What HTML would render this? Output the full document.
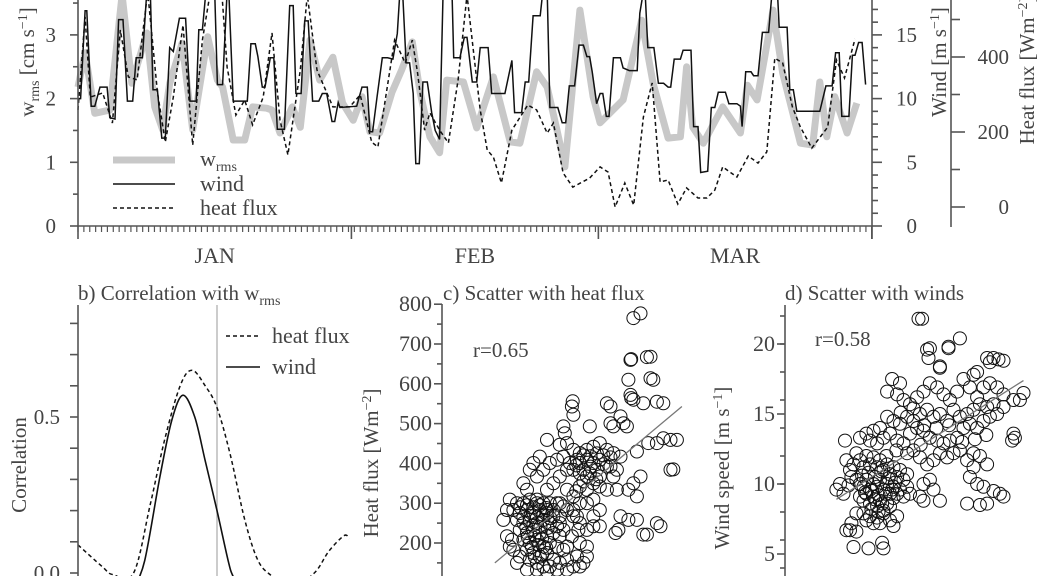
<!DOCTYPE html>
<html><head><meta charset="utf-8"><style>
html,body{margin:0;padding:0;background:#fff}
svg{display:block;font-family:"Liberation Serif",serif}
text{fill:#444}
</style></head><body>
<svg id="fig" width="1038" height="576" viewBox="0 0 1038 576" xmlns="http://www.w3.org/2000/svg">
<g id="top"></g>
<g id="pb"></g>
<g id="pc"></g>
<g id="pd"></g>
</svg>
<script>
// ---- top panel data (day since Jan 1) ----
const windDay=[0,0.3,0.8,1.0,1.5,1.9,2.5,3.3,3.6,4.2,4.6,5.1,5.6,6.2,6.6,7.3,7.8,8.2,8.5,9.0,9.5,9.9,10.4,10.8,11.5,12.2,12.7,13.4,13.7,14.1,14.5,15.5,15.8,16.4,16.9,17.1,17.6,19.2,19.6,20.1,20.4,20.9,21.2,21.8,22.2,22.6,23.4,24.0,24.4,24.7,25.3,25.7,26.1,26.6,27.3,27.7,28.2,28.8,29.1,29.5,29.7,31.6,32.2,32.8,33.1,33.4,33.9,34.5,35.1,35.7,36.2,36.5,36.8,37.2,37.6,38.0,38.3,38.7,39.1,39.6,40.1,40.5,41.0,41.4,42.4,42.6,43.3,43.8,44.1,44.7,45.2,45.6,46.5,46.9,48.4,49.2,49.5,50.3,50.7,51.1,51.6,52.4,52.7,53.2,53.5,54.4,54.9,55.3,55.7,56.3,56.8,57.3,57.7,58.0,58.3,58.8,59.2,59.5,59.9,60.2,60.7,61.5,61.8,62.5,63.4,63.7,64.1,64.3,64.6,65.3,65.8,66.4,66.9,67.2,67.6,68.3,68.6,69.5,69.8,70.3,70.6,71.4,71.8,72.2,72.6,73.4,73.8,74.7,75.1,75.3,75.7,76.3,76.6,77.1,77.6,78.3,78.7,79.3,79.5,80.4,80.7,81.1,81.5,84.1,84.8,85.5,85.9,86.3,86.6,87.4,87.8,88.1,88.5,88.9,89.3];
const windVal=[10.0,10.0,16.9,16.9,9.4,9.4,10.9,10.9,8.5,8.4,16.2,16.2,9.8,9.8,13.2,13.2,18.4,18.4,10.7,10.7,6.9,6.9,14.0,13.7,16.3,16.3,9.8,9.8,15.4,15.4,18.4,18.4,11.1,11.1,18.4,18.4,9.8,9.8,14.3,14.3,13.3,10.9,10.9,13.2,13.2,7.6,7.6,17.3,17.3,10.4,10.4,16.1,16.1,9.8,9.8,10.4,10.4,8.2,8.2,9.7,9.3,9.4,10.9,10.9,7.4,7.4,10.1,13.2,13.2,13.1,15.1,18.4,18.4,12.8,12.8,10.4,4.9,4.9,11.3,11.3,8.9,7.5,6.8,18.4,18.4,13.2,13.2,14.8,14.8,11.3,11.3,14.0,14.0,10.4,10.4,13.0,8.9,8.9,11.3,11.3,16.5,16.5,18.4,18.4,9.3,9.3,8.1,8.1,11.0,11.0,14.2,14.2,13.3,13.3,12.1,9.6,10.4,10.4,8.6,8.6,13.2,13.2,12.4,12.2,12.2,16.7,18.4,18.4,14.0,14.0,11.2,11.2,10.9,10.9,13.1,13.1,13.8,13.8,7.8,7.8,4.2,4.3,9.3,9.3,10.5,10.5,9.6,9.6,9.4,7.8,12.1,12.1,11.8,11.8,15.2,15.2,18.4,18.4,15.6,15.6,10.7,10.7,9.0,9.0,11.0,11.0,13.6,13.6,8.6,8.6,13.4,13.4,14.4,14.4,11.1];
const wrmsDay=[0,0.8,1.9,3.6,5.0,6.1,7.8,8.7,9.6,10.4,11.8,13.0,14.7,15.8,16.4,17.6,18.9,19.8,21.4,22.0,22.9,24.3,25.2,26.3,27.4,28.9,30.0,31.2,32.2,33.1,34.2,35.6,36.7,37.9,38.8,39.9,41.0,41.8,43.7,45.2,47.1,49.0,50.1,52.0,53.2,54.3,55.2,56.9,58.4,59.2,61.8,63.9,65.2,66.9,68.3,69.0,69.7,70.9,73.1,75.1,75.9,77.0,78.8,79.9,81.9,83.3,84.1,84.9,85.8,87.2,88.3];
const wrmsVal=[2.18,2.72,1.77,1.82,3.63,2.24,3.03,1.87,1.51,2.24,2.87,1.51,2.97,2.29,2.18,1.35,1.35,1.87,1.85,1.82,1.46,1.87,1.55,2.92,2.29,2.65,1.93,1.66,2.03,1.48,1.46,2.10,2.45,2.89,2.09,1.40,1.15,2.29,2.26,1.54,2.34,1.32,1.30,2.42,2.18,1.51,0.93,3.39,2.03,1.62,1.98,3.23,2.24,1.38,1.40,2.50,1.55,1.30,1.87,1.46,2.21,1.98,3.39,2.40,1.30,1.27,2.26,1.40,2.03,1.46,1.93];
const heatDay=[0,0.8,1.4,2.8,3.9,4.8,5.7,6.7,7.9,9.0,9.9,10.8,11.9,13.0,14.1,15.0,16.3,16.9,17.9,18.9,19.8,21.0,22.0,22.9,23.8,25.2,26.0,27.1,28.9,30.8,32.0,33.3,34.0,35.9,37.1,37.9,38.5,39.3,39.9,41.0,42.0,43.1,44.1,45.6,46.4,47.1,48.0,49.2,51.0,52.0,53.2,53.9,55.0,56.1,58.0,59.2,60.1,60.9,62.0,63.0,64.1,65.1,66.0,66.9,68.0,69.0,70.3,71.3,72.2,73.1,74.7,76.0,77.1,78.1,79.0,79.9,81.0,81.9,83.2,85.0,86.0,86.9,88.1];
const heatVal=[259,507,293,304,224,472,347,339,573,307,173,293,485,165,445,573,573,373,245,285,219,293,464,232,139,365,565,365,267,267,299,173,160,445,384,445,357,205,251,205,171,339,565,259,152,133,64,205,272,259,197,224,91,53,77,107,93,0,64,5,240,331,67,72,8,51,24,24,45,107,80,136,117,147,397,384,267,213,157,213,392,344,448];
const wrmsTicks=[0,1,2,3];
const windTicks=[0,5,10,15];
const heatTicks=[0,200,400];
const monthNames=["JAN","FEB","MAR"];
const monthStart=[0,31,59,90];
// ---- correlation data (lag, days) ----
const heatLag=[-20,-16.5,-15,-12,-9.6,-7.5,-5.3,-3.6,-1.7,0,1.9,4,5.9,7.9,10.5,14,16.1,18.3,19];
const heatCorr=[0.09,0.02,-0.005,0.0,0.22,0.43,0.6,0.65,0.6,0.53,0.38,0.17,0.04,-0.01,-0.05,0.0,0.07,0.12,0.11];
const windLag=[-12,-10.4,-8.2,-6.5,-4.9,-3.2,-1.7,0,1.6,2.3,3.5];
const windCorr=[-0.05,0.04,0.31,0.49,0.57,0.5,0.36,0.2,0.04,-0.01,-0.05];
const corrTicks=[0.0,0.5];
// ---- scatter c: [wrms, heat flux] ----
const scatC=[[2.68,765],[2.78,777],[2.64,660],[2.65,662],[2.87,667],[2.92,668],[2.92,614],[2.96,610],[2.61,610],[1.83,556],[1.82,543],[1.84,522],[2.64,572],[2.65,564],[2.68,560],[2.82,551],[3.01,555],[3.10,551],[2.31,551],[2.36,543],[2.50,518],[2.59,493],[2.54,501],[2.36,501],[2.40,493],[2.07,493],[1.70,493],[1.72,476],[1.47,459],[1.65,447],[3.10,463],[3.20,459],[3.29,459],[3.01,451],[2.73,430],[2.89,451],[3.20,384],[3.24,385],[2.78,367],[2.68,350],[2.73,317],[2.61,334],[2.45,334],[2.50,267],[2.61,258],[2.73,258],[2.43,225],[2.47,233],[2.82,221],[2.87,221],[3.01,250],[3.06,242],[2.12,242],[2.21,242],[2.03,191],[1.93,200],[1.75,191],
[1.75,451],[1.84,434],[1.93,426],[2.03,434],[2.12,442],[2.21,451],[2.31,434],[2.40,426],[2.50,417],[1.93,401],[2.03,409],[2.12,401],[2.21,409],[2.31,392],[1.84,384],[1.93,375],[2.03,367],[2.12,350],[2.21,342],[2.31,334],[1.93,342],[2.03,334],[1.75,384],[1.65,367],[1.56,350],[1.47,334],[1.75,334],[1.84,317],[1.65,300],[2.03,300],[2.12,309],[2.21,367],[2.40,367],[2.45,384],[2.36,392],[2.17,384],[2.07,375],[1.98,384],[1.89,409],[1.79,401],[1.70,417],[1.61,409],[1.51,401],[1.42,384],[1.33,367],[1.23,384],[1.28,401],[1.37,417],[1.14,350],[1.19,334],[1.33,300],[1.47,283],[1.56,267],[1.65,250],[1.75,283],[1.84,267],[1.93,250],[2.03,233],[2.12,267],[2.21,283],[1.93,300],[1.84,283],
[1.98,420],[2.08,418],[2.17,425],[2.26,420],[2.36,415],[1.88,395],[2.08,392],[2.26,398],[1.98,355],[2.16,360],[1.88,330],
[1.05,300],[1.14,300],[1.23,309],[1.33,309],[1.42,300],[1.51,300],[1.61,300],[1.70,292],
[1.00,283],[1.09,275],[1.19,283],[1.28,275],[1.37,283],[1.47,275],[1.56,283],[1.65,267],
[1.05,258],[1.14,250],[1.23,258],[1.33,250],[1.42,258],[1.51,250],[1.61,242],[1.70,233],
[1.09,233],[1.19,225],[1.28,233],[1.37,225],[1.47,217],[1.56,225],[1.65,217],
[1.14,208],[1.23,200],[1.33,208],[1.42,191],[1.51,200],[1.61,191],[1.70,183],
[1.19,183],[1.28,175],[1.37,166],[1.47,175],[1.56,158],[1.65,150],[1.75,158],
[1.23,158],[1.33,150],[1.42,141],[1.51,141],[1.61,133],[1.84,141],[1.93,141],
[1.10,290],[1.19,295],[1.28,290],[1.37,295],[1.46,288],[1.14,265],[1.24,268],[1.33,265],[1.42,270],[1.52,262],[1.18,240],[1.28,245],[1.38,240],[1.48,238],[1.20,215],[1.30,218],[1.40,212],[1.26,190],[1.36,195],[1.46,188],[1.30,165],[1.40,170],
[0.91,283],[0.95,309],[0.86,258],[0.98,208],[1.00,183],[1.09,166],[0.91,217],[0.95,191],[1.05,150],[1.19,133],[1.33,133],[1.47,129],[1.75,133],[2.03,166],[1.98,150],[1.89,166],[1.82,217],[1.91,233],[1.89,267]];
const fitC=[39,150];
const heatAxisTicks=[200,300,400,500,600,700,800];
// ---- scatter d: [wrms, wind speed] ----
const scatD=[[1.87,21.8],[1.92,21.8],[2.03,19.7],[1.99,19.6],[2.01,19.0],[2.29,19.8],[2.29,19.7],[2.45,20.4],[2.83,19.0],[2.92,19.0],[2.99,18.9],[3.06,18.8],[2.87,18.7],[2.17,18.4],[2.17,18.3],[2.64,17.8],[2.69,18.0],[1.50,17.5],[1.61,17.2],[1.43,16.6],
[1.57,16.4],[1.66,16.0],[1.75,15.7],[1.85,16.2],[1.94,16.6],[2.03,17.2],[2.13,16.9],[2.22,16.4],[2.31,16.0],[2.41,16.6],[2.50,17.5],[2.59,16.9],[2.69,16.2],[2.78,16.9],[2.87,17.2],[2.97,16.9],[3.06,16.4],[3.20,16.0],[2.92,15.7],[2.83,15.5],[2.73,15.7],[2.64,15.3],[2.55,15.0],[2.45,14.8],[2.36,15.3],[2.27,14.5],[2.17,15.0],[2.08,14.8],[1.99,15.3],[1.89,15.0],[1.80,14.5],[1.71,14.8],[1.61,14.3],[1.52,14.5],[1.43,14.8],[1.33,14.0],[1.24,13.8],[1.14,13.6],[1.05,13.3],[1.19,13.1],[1.29,12.9],[1.38,13.3],[1.47,13.6],[1.57,13.1],[1.66,12.9],[1.75,13.6],[1.85,14.0],[1.94,13.8],[2.03,13.3],[2.13,13.1],[2.22,12.9],[2.31,13.1],[2.41,13.3],[2.50,14.0],[2.59,14.3],[2.69,14.0],[2.78,14.5],[2.87,14.8],[2.97,15.0],[3.06,15.5],[2.45,12.4],[2.36,12.2],[2.27,11.9],[2.17,12.2],[2.08,11.7],[1.99,11.4],[1.89,11.9],[1.80,12.4],[1.71,12.2],[2.55,11.7],[2.64,12.2],[2.73,12.0],[2.83,11.4],[2.59,10.5],[2.69,10.0],[2.78,9.8],[2.64,11.2],
[1.62,15.1],[1.80,15.4],[1.95,14.2],[2.12,14.0],[2.30,14.2],[2.48,13.0],[2.66,13.2],[2.82,13.5],[1.56,12.4],[1.42,12.0],[1.90,12.8],
[2.55,8.6],[2.73,8.5],[2.83,8.6],[3.01,9.3],[3.06,9.1],[2.92,9.5],[3.20,13.6],[3.22,13.3],[3.18,13.1],[3.29,16.0],[3.34,16.5],
[1.89,9.1],[1.94,8.8],[2.17,8.8],[2.08,9.6],[2.03,10.3],[1.94,10.0],
[1.00,12.2],[1.05,11.7],[1.10,11.2],[1.14,12.0],[1.19,11.4],[1.24,11.9],[1.29,11.2],[1.33,11.7],[1.38,11.0],[1.43,11.4],[1.47,10.7],[1.52,11.2],[1.57,10.5],[1.61,11.0],[1.66,10.3],[1.71,10.7],
[1.00,10.3],[1.05,10.0],[1.10,9.8],[1.14,10.3],[1.19,9.6],[1.24,10.0],[1.29,9.8],[1.33,10.3],[1.38,9.6],[1.43,10.0],[1.47,9.3],[1.52,9.8],[1.57,9.3],[1.61,9.6],[1.66,9.1],[1.71,9.8],[1.75,9.3],
[1.08,10.6],[1.17,10.8],[1.26,10.5],[1.35,10.9],[1.45,10.4],[1.54,10.1],[1.12,9.4],[1.22,9.5],[1.31,9.2],[1.41,9.3],[1.50,9.6],[1.26,8.9],[1.36,8.6],[1.21,8.2],[1.31,8.0],
[1.05,9.1],[1.10,8.8],[1.14,9.3],[1.19,8.6],[1.24,9.1],[1.29,8.4],[1.33,8.8],[1.38,8.1],[1.43,8.6],[1.47,8.4],[1.52,9.0],
[1.10,7.9],[1.14,7.4],[1.19,7.7],[1.24,7.2],[1.29,7.6],[1.33,7.2],[1.38,7.9],[1.47,7.4],[1.52,7.0],[1.57,7.7],
[0.84,13.1],[0.86,11.7],[0.91,11.0],[0.77,10.0],[0.82,9.3],[0.89,9.9],[0.72,9.6],[0.93,10.5],[0.96,11.4],
[0.91,6.7],[0.96,5.5],[1.17,5.4],[1.36,5.8],[1.38,5.4],[0.93,7.2],[0.86,6.7],[1.00,7.9],[1.00,6.6]];
const fitD=[6.57,3.24];
const windAxisTicks=[5,10,15,20];

const NS="http://www.w3.org/2000/svg";
const FS=21;
function mk(parent,tag,attrs,txt){const e=document.createElementNS(NS,tag);for(const k in attrs)e.setAttribute(k,attrs[k]);if(txt!==undefined)e.textContent=txt;parent.appendChild(e);return e;}
const AX="#555";
function line(p,x1,y1,x2,y2,name,w){const l=mk(p,"line",{x1,y1,x2,y2,stroke:AX,"stroke-width":w||1.6});

return l;}
function txt(p,x,y,s,name,anchor,size){const t=mk(p,"text",{x,y,"font-size":size||FS,"text-anchor":anchor||"start"},s);

return t;}
function pathFrom(xs,ys,fx,fy){return xs.map((d,i)=>(i?"L":"M")+fx(d).toFixed(1)+","+fy(ys[i]).toFixed(1)).join("");}
function smoothPath(xs,ys,fx,fy){const P=xs.map((d,i)=>[fx(d),fy(ys[i])]);let s="M"+P[0][0]+","+P[0][1];
for(let i=0;i<P.length-1;i++){const p0=P[Math.max(0,i-1)],p1=P[i],p2=P[i+1],p3=P[Math.min(P.length-1,i+2)];
const c1=[p1[0]+(p2[0]-p0[0])/6,p1[1]+(p2[1]-p0[1])/6],c2=[p2[0]-(p3[0]-p1[0])/6,p2[1]-(p3[1]-p1[1])/6];
s+="C"+c1.join(",")+" "+c2.join(",")+" "+p2.join(",");}return s;}

// ===== TOP PANEL =====
const T=document.getElementById("top");
const xT=d=>78+d*8.82, yWr=v=>226-63.7*v, yWi=v=>226-12.74*v, yHf=v=>207-0.375*v;
let g=mk(T,"path",{d:pathFrom(wrmsDay,wrmsVal,xT,yWr),fill:"none",stroke:"#c8c8c8","stroke-width":7,"stroke-linejoin":"round"});


g=mk(T,"path",{d:pathFrom(windDay,windVal,xT,yWi),fill:"none",stroke:"#111","stroke-width":1.5});


g=mk(T,"path",{d:pathFrom(heatDay,heatVal,xT,yHf),fill:"none",stroke:"#111","stroke-width":1.5,"stroke-dasharray":"4,3"});


line(T,78,0,78,227,'left-y-axis');
line(T,77,226,873,226,'time-x-axis');
line(T,872,0,872,239,'wind-y-axis');
line(T,951,0,951,227,'heat-flux-y-axis');
for(let v=0;v<=3.5;v+=0.5){const maj=wrmsTicks.includes(v);line(T,maj?70:73,yWr(v),78,yWr(v),'wrms-tick');if(maj)txt(T,56,yWr(v)+7,String(v),'wrms-tick-label','end');}
for(let v=0;v<=17;v++){const maj=windTicks.includes(v);line(T,872,yWi(v),maj?882:878,yWi(v),'wind-tick');if(maj)txt(T,917,yWi(v)+7,String(v),'wind-tick-label','end');}
for(let v=0;v<=500;v+=100){const maj=heatTicks.includes(v);line(T,951,yHf(v),maj?965:960,yHf(v),'heat-tick');if(maj)txt(T,1009,yHf(v)+7,String(v),'heat-tick-label','end');}
for(let d=0;d<=90.01;d+=2/3)line(T,xT(d),226,xT(d),232,'day-tick',1.2);
monthStart.forEach(d=>line(T,xT(d),226,xT(d),239,'month-tick'));
monthNames.forEach((m,i)=>txt(T,(xT(monthStart[i])+xT(monthStart[i+1]))/2,263,m,'month-label','middle',22));
g=mk(T,"text",{transform:"translate(34,62) rotate(-90)","font-size":FS,"text-anchor":"middle"});


g.innerHTML='w<tspan font-size="14" dy="5">rms</tspan><tspan dy="-5"> [cm s</tspan><tspan font-size="14" dy="-7">−1</tspan><tspan dy="7">]</tspan>';
g=mk(T,"text",{transform:"translate(946,62) rotate(-90)","font-size":FS,"text-anchor":"middle"});


g.innerHTML='Wind [m s<tspan font-size="14" dy="-7">−1</tspan><tspan dy="7">]</tspan>';
g=mk(T,"text",{transform:"translate(1034,70) rotate(-90)","font-size":FS,"text-anchor":"middle"});


g.innerHTML='Heat flux [Wm<tspan font-size="14" dy="-7">−2</tspan><tspan dy="7">]</tspan>';
const L=mk(T,"g",{});


g=mk(L,"line",{x1:113,y1:160,x2:175,y2:160,stroke:"#c8c8c8","stroke-width":7});


g=mk(L,"text",{x:200,y:166,"font-size":22});


g.innerHTML='w<tspan font-size="14" dy="5">rms</tspan>';
g=mk(L,"line",{x1:113,y1:184,x2:175,y2:184,stroke:"#111","stroke-width":1.5});


txt(L,200,191,"wind",'legend-wind-label','start',22);
g=mk(L,"line",{x1:113,y1:208,x2:175,y2:208,stroke:"#111","stroke-width":1.5,"stroke-dasharray":"4,3"});


txt(L,200,215,"heat flux",'legend-heat-label','start',22);

// ===== PANEL B =====
const B=document.getElementById("pb");
const xB=l=>217+6.95*l, yB=c=>573-312*c;
line(B,217,305,217,576,'zero-lag-line',1.5).setAttribute("stroke","#bbb");
g=mk(B,"path",{d:smoothPath(heatLag,heatCorr,xB,yB),fill:"none",stroke:"#111","stroke-width":1.5,"stroke-dasharray":"4,3"});


g=mk(B,"path",{d:smoothPath(windLag,windCorr,xB,yB),fill:"none",stroke:"#111","stroke-width":1.6});


line(B,78,305,78,576,'correlation-y-axis');
for(let i=0;i<=8;i++){const c=i/10;line(B,70,yB(c),78,yB(c),'correlation-tick');}
corrTicks.forEach(c=>txt(B,60,yB(c)+7,c.toFixed(1),'correlation-tick-label','end'));
g=mk(B,"text",{x:78,y:300,"font-size":FS});


g.innerHTML='b) Correlation with w<tspan font-size="14" dy="5">rms</tspan>';
g=mk(B,"text",{transform:"translate(26,465) rotate(-90)","font-size":FS,"text-anchor":"middle"},"Correlation");


g=mk(B,"line",{x1:226,y1:336,x2:260,y2:336,stroke:"#111","stroke-width":1.5,"stroke-dasharray":"4,3"});


txt(B,272,343,"heat flux",'legend-b-heat-label','start',22);
g=mk(B,"line",{x1:226,y1:367,x2:260,y2:367,stroke:"#111","stroke-width":1.5});


txt(B,272,374,"wind",'legend-b-wind-label','start',22);

// ===== PANEL C =====
const C=document.getElementById("pc");
const xC=w=>442+71.4*w, yC=h=>543-0.398*(h-200);
scatC.forEach(p=>{const c=mk(C,"circle",{cx:xC(p[0]).toFixed(1),cy:yC(p[1]).toFixed(1),r:6.5,fill:"none",stroke:"#111","stroke-width":1});

});
g=mk(C,"line",{x1:xC(0.74),y1:yC(fitC[0]+fitC[1]*0.74),x2:xC(3.36),y2:yC(fitC[0]+fitC[1]*3.36),stroke:"#777","stroke-width":1.3});


line(C,442,304,442,576,'heat-scatter-y-axis');
for(let h=100;h<=800;h+=50){const maj=heatAxisTicks.includes(h);line(C,maj?434:437,yC(h),442,yC(h),'heat-scatter-tick');if(maj)txt(C,432,yC(h)+7,String(h),'heat-scatter-tick-label','end',22);}
txt(C,443,300,"c) Scatter with heat flux",'panel-c-title','start',FS);
txt(C,473,357,"r=0.65",'heat-r-label','start',FS);
g=mk(C,"text",{transform:"translate(378,463) rotate(-90)","font-size":FS,"text-anchor":"middle"});


g.innerHTML='Heat flux [Wm<tspan font-size="14" dy="-7">−2</tspan><tspan dy="7">]</tspan>';

// ===== PANEL D =====
const D=document.getElementById("pd");
const xD=w=>785+71.4*w, yD=v=>484-14.0*(v-10);
scatD.forEach(p=>{const c=mk(D,"circle",{cx:xD(p[0]).toFixed(1),cy:yD(p[1]).toFixed(1),r:6.5,fill:"none",stroke:"#111","stroke-width":1});

});
g=mk(D,"line",{x1:xD(0.72),y1:yD(fitD[0]+fitD[1]*0.72),x2:xD(3.34),y2:yD(fitD[0]+fitD[1]*3.34),stroke:"#777","stroke-width":1.3});


line(D,785,305,785,576,'wind-scatter-y-axis');
for(let v=4;v<=22;v+=2){line(D,780,yD(v),785,yD(v),'wind-scatter-minor-tick');}
windAxisTicks.forEach(v=>{line(D,777,yD(v),785,yD(v),'wind-scatter-tick');txt(D,775,yD(v)+7,String(v),'wind-scatter-tick-label','end',22);});
txt(D,785,300,"d) Scatter with winds",'panel-d-title','start',FS);
txt(D,815,346,"r=0.58",'wind-r-label','start',FS);
g=mk(D,"text",{transform:"translate(729,468) rotate(-90)","font-size":FS,"text-anchor":"middle"});


g.innerHTML='Wind speed [m s<tspan font-size="14" dy="-7">−1</tspan><tspan dy="7">]</tspan>';
</script>
</body></html>
